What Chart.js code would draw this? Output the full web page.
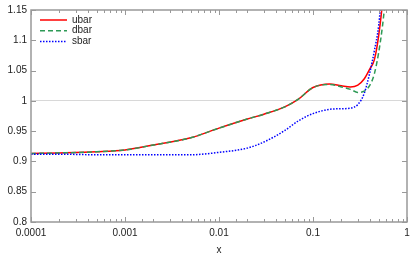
<!DOCTYPE html>
<html>
<head>
<meta charset="utf-8">
<script src="https://cdn.jsdelivr.net/npm/chart.js@4.4.0/dist/chart.umd.min.js"></script>
<style>
  html, body { margin: 0; padding: 0; background: #fff; }
  #wrap { width: 415px; height: 256px; }
</style>
</head>
<body>
<div id="wrap"><canvas id="chart-pdf" width="415" height="256"></canvas></div>
<script>
// values
const xVals = [0.0001, 0.0002, 0.0005, 0.001, 0.002, 0.005, 0.01, 0.02, 0.03, 0.05, 0.07,
               0.1, 0.15, 0.2, 0.25, 0.3, 0.35, 0.4, 0.45, 0.5, 0.55, 0.6];
const ubar = [0.913, 0.914, 0.916, 0.919, 0.927, 0.939, 0.955, 0.970, 0.978, 0.990, 1.003,
              1.022, 1.028, 1.025, 1.023, 1.026, 1.036, 1.052, 1.068, 1.108, 1.165, 1.25];
const dbar = [0.913, 0.914, 0.916, 0.919, 0.927, 0.939, 0.955, 0.970, 0.978, 0.990, 1.003,
              1.022, 1.027, 1.023, 1.019, 1.014, 1.016, 1.025, 1.045, 1.080, 1.125, 1.18];
const sbar = [0.912, 0.912, 0.911, 0.911, 0.911, 0.911, 0.915, 0.922, 0.932, 0.951, 0.967,
              0.979, 0.986, 0.987, 0.988, 0.994, 1.012, 1.045, 1.083, 1.125, 1.2, 1.3];
const seriesNames = ['ubar', 'dbar', 'sbar'];
const yTicks = [0.8, 0.85, 0.9, 0.95, 1, 1.05, 1.1, 1.15];
const xTickLabels = ['0.0001', '0.001', '0.01', '0.1', '1'];

const FONT = "'Liberation Sans', Arial, sans-serif";
const toPts = arr => arr.map((v, i) => ({x: xVals[i], y: v}));
const isDecade = v => Math.abs(Math.log10(v) - Math.round(Math.log10(v))) < 1e-6;

// gnuplot-ish frame: box, inward ticks on all sides, legend inside top-left
const gnuFrame = {
  id: 'gnuFrame',
  afterDatasetsDraw(chart) {
    const {ctx, chartArea: a, scales: {x, y}} = chart;
    ctx.save();
    ctx.strokeStyle = '#999';
    ctx.lineWidth = 1;
    ctx.beginPath();
    for (const t of x.ticks) {
      const px = Math.round(x.getPixelForValue(t.value)) + 0.5;
      const len = isDecade(t.value) ? 5 : 3;
      ctx.moveTo(px, a.bottom); ctx.lineTo(px, a.bottom - len);
      ctx.moveTo(px, a.top); ctx.lineTo(px, a.top + len);
    }
    for (const v of yTicks) {
      const py = Math.round(y.getPixelForValue(v)) + 0.5;
      ctx.moveTo(a.left, py); ctx.lineTo(a.left + 5, py);
      ctx.moveTo(a.right, py); ctx.lineTo(a.right - 5, py);
    }
    ctx.stroke();
    ctx.lineWidth = 1.5;
    ctx.strokeStyle = '#999';
    ctx.strokeRect(a.left, a.top, a.right - a.left, a.bottom - a.top);

    // legend
    ctx.font = '10px ' + FONT;
    ctx.textBaseline = 'middle';
    ctx.textAlign = 'left';
    chart.data.datasets.forEach((ds, i) => {
      const ly = a.top + 10 + i * 10.7;
      ctx.strokeStyle = ds.borderColor;
      ctx.lineWidth = ds.borderWidth;
      ctx.setLineDash(ds.borderDash || []);
      ctx.beginPath();
      ctx.moveTo(a.left + 9, ly);
      ctx.lineTo(a.left + 36, ly);
      ctx.stroke();
      ctx.setLineDash([]);
      ctx.fillStyle = '#222';
      ctx.fillText(ds.label, a.left + 41, ly);
    });
    ctx.restore();
  }
};

const chartPdf = document.getElementById('chart-pdf');

new Chart(chartPdf, {
  type: 'line',
  data: {
    datasets: [
      {label: seriesNames[0], data: toPts(ubar), borderColor: '#ff0000', borderWidth: 1.5, order: 3},
      {label: seriesNames[1], data: toPts(dbar), borderColor: '#2e9a56', borderWidth: 1.5, borderDash: [5, 3], order: 2},
      {label: seriesNames[2], data: toPts(sbar), borderColor: '#0000ff', borderWidth: 1.5, borderDash: [1.5, 1.5], order: 1}
    ]
  },
  options: {
    responsive: false,
    animation: false,
    layout: {padding: {top: 6, right: 8, left: 0, bottom: 0}},
    elements: {
      point: {radius: 0},
      line: {cubicInterpolationMode: 'monotone', fill: false}
    },
    plugins: {
      legend: {display: false},
      tooltip: {enabled: false}
    },
    scales: {
      x: {
        type: 'logarithmic',
        min: 0.0001,
        max: 1,
        afterFit: s => { s.height = 34; },
        border: {display: false},
        grid: {display: false, drawTicks: false},
        title: {display: true, text: 'x', color: '#222', font: {family: FONT, size: 10}, padding: {top: 6, bottom: 0}},
        ticks: {
          autoSkip: false,
          maxRotation: 0,
          padding: 5,
          color: '#222',
          font: {family: FONT, size: 10},
          callback: v => {
            if (!isDecade(v)) return '';
            const lbl = xTickLabels.find(s => Math.abs(Number(s) - v) < 1e-12);
            return lbl || '';
          }
        }
      },
      y: {
        min: 0.8,
        max: 1.15,
        afterFit: s => { s.width = 31; },
        afterBuildTicks: s => { s.ticks = yTicks.map(v => ({value: v})); },
        border: {display: false},
        grid: {
          drawTicks: false,
          color: c => (c.tick && Math.abs(c.tick.value - 1) < 1e-9) ? '#d8d8d8' : 'rgba(0,0,0,0)',
          lineWidth: 1
        },
        ticks: {
          padding: 4,
          color: '#222',
          font: {family: FONT, size: 10},
          callback: v => Number(v.toFixed(2)).toString()
        }
      }
    }
  },
  plugins: [gnuFrame]
});
</script>
</body>
</html>
